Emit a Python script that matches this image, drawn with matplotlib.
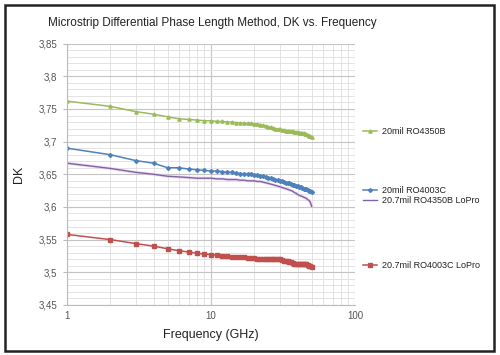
import numpy as np
import matplotlib
matplotlib.use('Agg')
import matplotlib.pyplot as plt
from matplotlib.ticker import FixedLocator, MultipleLocator, FuncFormatter, LogLocator, NullFormatter
from matplotlib.patches import Rectangle

plt.rcParams['font.family'] = ['Liberation Sans', 'DejaVu Sans']

freq = list(range(1, 51))

ro4350b = [3.762, 3.754, 3.746, 3.742, 3.738, 3.735, 3.734, 3.733, 3.732, 3.732,
           3.731, 3.731, 3.730, 3.730, 3.729, 3.729, 3.728, 3.728, 3.728, 3.727,
           3.727, 3.726, 3.725, 3.724, 3.723, 3.722, 3.721, 3.720, 3.719, 3.719,
           3.718, 3.718, 3.717, 3.717, 3.716, 3.716, 3.716, 3.715, 3.715, 3.715,
           3.714, 3.714, 3.713, 3.713, 3.712, 3.711, 3.710, 3.709, 3.708, 3.707]

ro4003c = [3.690, 3.680, 3.671, 3.667, 3.660, 3.660, 3.658, 3.657, 3.656, 3.655,
           3.655, 3.654, 3.653, 3.653, 3.652, 3.651, 3.651, 3.650, 3.650, 3.649,
           3.649, 3.648, 3.647, 3.646, 3.645, 3.644, 3.643, 3.642, 3.641, 3.640,
           3.639, 3.638, 3.637, 3.636, 3.636, 3.635, 3.634, 3.633, 3.632, 3.632,
           3.631, 3.630, 3.629, 3.628, 3.627, 3.627, 3.626, 3.625, 3.624, 3.623]

ro4350b_lopro = [3.667, 3.659, 3.653, 3.650, 3.647, 3.646, 3.645, 3.644, 3.644, 3.644,
                 3.643, 3.643, 3.642, 3.642, 3.642, 3.641, 3.641, 3.640, 3.640, 3.640,
                 3.639, 3.639, 3.638, 3.637, 3.636, 3.635, 3.634, 3.633, 3.632, 3.631,
                 3.630, 3.629, 3.628, 3.627, 3.626, 3.625, 3.624, 3.622, 3.621, 3.619,
                 3.618, 3.617, 3.616, 3.615, 3.614, 3.613, 3.611, 3.610, 3.607, 3.601]

ro4003c_lopro = [3.558, 3.550, 3.544, 3.540, 3.536, 3.533, 3.531, 3.529, 3.528, 3.527,
                 3.526, 3.525, 3.525, 3.524, 3.524, 3.523, 3.523, 3.522, 3.522, 3.522,
                 3.521, 3.521, 3.521, 3.521, 3.521, 3.520, 3.520, 3.520, 3.520, 3.520,
                 3.519, 3.518, 3.518, 3.517, 3.516, 3.515, 3.514, 3.513, 3.512, 3.512,
                 3.512, 3.512, 3.513, 3.513, 3.513, 3.512, 3.511, 3.510, 3.509, 3.508]

labels = ['20mil RO4350B', '20mil RO4003C', '20.7mil RO4350B LoPro', '20.7mil RO4003C LoPro']
colors = ['#9bbb59', '#4f81bd', '#8064a2', '#c0504d']

fig = plt.figure(figsize=(5, 3.55), dpi=100)
ax = fig.add_axes([0.134, 0.141, 0.576, 0.736])

h1, = ax.plot(freq, ro4350b, color=colors[0], marker='^', ms=2.3, lw=1.1)
h2, = ax.plot(freq, ro4003c, color=colors[1], marker='D', ms=2.0, lw=1.1)
ax.plot(freq, ro4350b_lopro, color='#e3c6ee', lw=2.2, alpha=0.6, zorder=1)
h3, = ax.plot(freq, ro4350b_lopro, color=colors[2], lw=1.0)
h4, = ax.plot(freq, ro4003c_lopro, color=colors[3], marker='s', ms=2.8, lw=1.1)

ax.set_xscale('log')
ax.set_xlim(1, 100)
ax.set_ylim(3.45, 3.85)
ax.xaxis.set_major_locator(FixedLocator([1, 10, 100]))
ax.xaxis.set_major_formatter(FuncFormatter(lambda v, p: '%g' % v))
ax.xaxis.set_minor_locator(LogLocator(base=10, subs=np.arange(2, 10)))
ax.xaxis.set_minor_formatter(NullFormatter())
ax.yaxis.set_major_locator(MultipleLocator(0.05))
ax.yaxis.set_minor_locator(MultipleLocator(0.01))
ax.yaxis.set_major_formatter(FuncFormatter(lambda v, p: ('%g' % round(v, 2)).replace('.', ',')))

ax.grid(which='major', color='#c4c4c4', lw=0.8)
ax.grid(which='minor', color='#dedede', lw=0.6)
ax.set_axisbelow(True)
for s in ax.spines.values():
    s.set_visible(False)
ax.spines['left'].set_visible(True)
ax.spines['left'].set_color('#bbbbbb')
ax.spines['bottom'].set_visible(True)
ax.spines['bottom'].set_color('#bbbbbb')
ax.tick_params(which='both', length=0, labelsize=7, colors='#555555', pad=4)
ax.tick_params(which='major', axis='y', length=3, color='#bbbbbb')

ax.set_xlabel('Frequency (GHz)', fontsize=9, color='#222222', labelpad=6)
ax.set_ylabel('DK', fontsize=9, color='#222222', labelpad=10)
fig.text(0.425, 0.935, 'Microstrip Differential Phase Length Method, DK vs. Frequency',
         ha='center', va='center', fontsize=8.5, color='#222222')

# legend entries placed beside the plot, one per series
leg_y = [0.63, 0.462, 0.434, 0.252]
for h, lab, y in zip([h1, h2, h3, h4], labels, leg_y):
    lg = fig.legend(handles=[h], labels=[lab], loc='center left', bbox_to_anchor=(0.718, y),
                    frameon=False, fontsize=6.5, handlelength=1.6, handletextpad=0.5,
                    borderaxespad=0, labelcolor='#222222')

fig.patches.append(Rectangle((0.01, 0.012), 0.978, 0.975, transform=fig.transFigure,
                             fill=False, ec='#222222', lw=1.8))

fig.savefig('out.png', dpi=100)
